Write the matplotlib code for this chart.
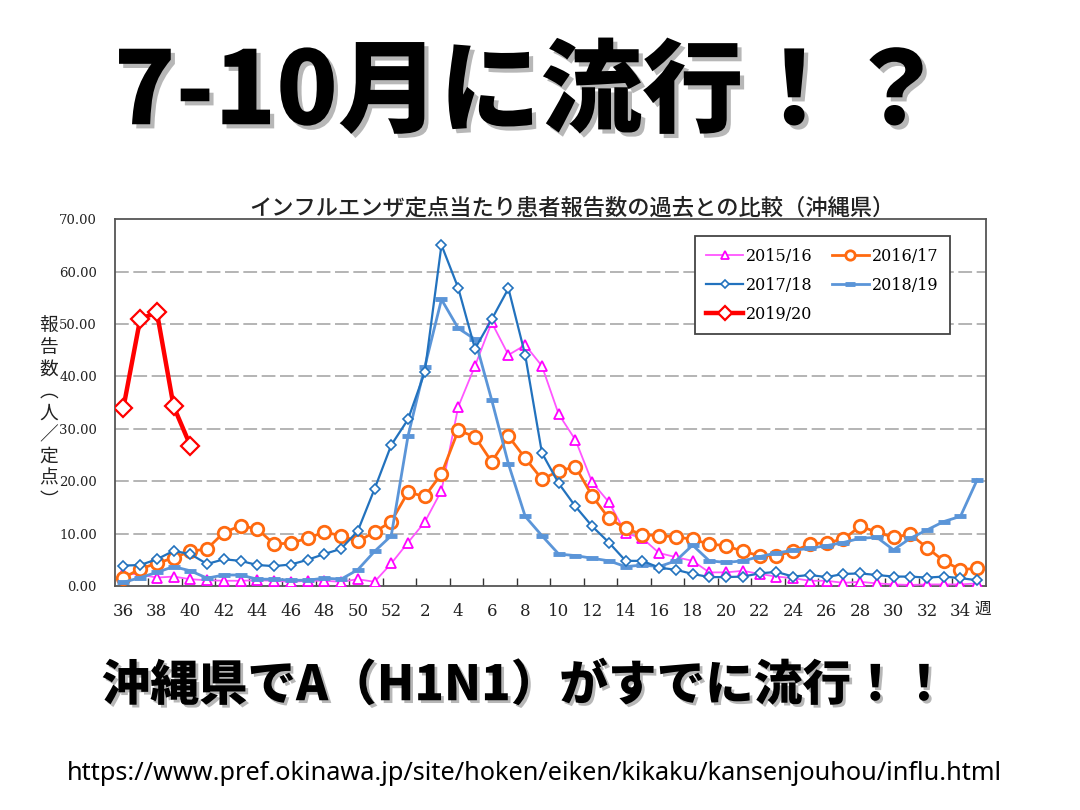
import matplotlib
matplotlib.use("Agg")
import matplotlib.pyplot as plt
import matplotlib.patheffects as pe
import numpy as np

# ---- data ----
weeks = list(range(36, 53)) + list(range(1, 36))
tick_labels = [str(w) if i % 2 == 0 else "" for i, w in enumerate(weeks)]

s1516 = [2.4, 2.2, 1.6, 1.8, 1.3, 1.1, 1.0, 1.0, 1.1, 1.0, 0.8, 1.0, 1.0, 0.8, 1.3, 0.8, 4.3,
         8.3, 12.2, 18.2, 34.2, 42.0, 50.3, 44.1, 46.0, 42.0, 32.8, 27.9, 19.8, 16.0, 10.1, 9.1,
         6.3, 5.5, 4.8, 2.6, 2.6, 2.9, 2.3, 1.8, 1.5, 1.0, 1.0, 0.6, 0.8, 0.5, 0.3, 0.2, 0.3,
         0.3, 0.3, 0.5]
s1617 = [1.5, 3.3, 4.3, 5.4, 6.6, 7.1, 10.2, 11.5, 10.9, 8.0, 8.2, 9.1, 10.3, 9.6, 8.5, 10.3, 12.3,
         17.9, 17.1, 21.4, 29.7, 28.5, 23.7, 28.6, 24.4, 20.4, 21.9, 22.8, 17.2, 12.9, 11.0, 9.8,
         9.6, 9.4, 8.9, 8.0, 7.7, 6.6, 5.8, 5.8, 6.6, 8.0, 8.3, 8.9, 11.4, 10.3, 9.3, 9.9, 7.3,
         4.8, 3.1, 3.4]
s1718 = [3.9, 4.0, 5.1, 6.7, 6.1, 4.2, 5.1, 4.8, 4.0, 3.8, 4.1, 5.0, 6.1, 7.1, 10.5, 18.5, 26.9,
         31.8, 40.8, 65.1, 56.9, 45.3, 50.9, 56.8, 44.1, 25.4, 19.6, 15.2, 11.4, 8.3, 4.8, 4.8,
         3.5, 3.1, 2.3, 1.7, 1.7, 1.8, 2.4, 2.7, 1.8, 2.1, 1.7, 2.3, 2.4, 2.1, 1.8, 1.8, 1.6,
         1.8, 1.5, 1.1]
s1819 = [0.7, 1.6, 2.6, 3.7, 2.9, 1.5, 2.1, 2.1, 1.3, 1.3, 1.1, 1.1, 1.5, 1.3, 3.1, 6.6, 9.6,
         28.6, 41.8, 54.7, 49.2, 47.1, 35.5, 23.3, 13.3, 9.6, 6.1, 5.8, 5.3, 4.8, 3.7, 4.0,
         3.7, 4.8, 7.8, 4.8, 4.5, 4.8, 5.6, 6.3, 6.8, 7.2, 7.7, 8.3, 9.1, 9.3, 6.9, 9.1, 10.7,
         12.3, 13.3, 20.3]
s1920 = [34.0, 50.9, 52.3, 34.3, 26.8]

y_ticks = [0, 10, 20, 30, 40, 50, 60, 70]

x = np.arange(len(weeks))

fig = plt.figure(figsize=(10.8, 8.1), dpi=100)
fig.patch.set_facecolor("white")
ax = fig.add_axes([115 / 1080, 1 - 586 / 810, 870.6 / 1080, 366.7 / 810])

serif = "DejaVu Serif"
cjk = ["Noto Sans CJK JP", "DejaVu Sans"]

l1, = ax.plot(x, s1516, color="#FF55FF", lw=1.3, marker="^", ms=7, mfc="white",
              mec="#FF00FF", mew=1.3, label="2015/16", zorder=3)
l2, = ax.plot(x, s1617, color="#FF6A10", lw=2.0, marker="o", ms=9, mfc="white",
              mec="#FF6A10", mew=2.0, label="2016/17", zorder=3)
l3, = ax.plot(x, s1718, color="#2272BE", lw=1.6, marker="D", ms=5.5, mfc="white",
              mec="#2272BE", mew=1.2, label="2017/18", zorder=4)
l4, = ax.plot(x, s1819, color="#5B95D8", lw=2.0, marker="_", ms=9, mfc="#5B95D8",
              mec="#5B95D8", mew=3.5, label="2018/19", zorder=3)
l5, = ax.plot(x[:len(s1920)], s1920, color="#FF0000", lw=3.2, marker="D", ms=9, mfc="white",
              mec="#FF0000", mew=1.6, label="2019/20", zorder=5)

ax.set_xlim(-0.5, len(weeks) - 0.5)
ax.set_ylim(0, 70)
ax.set_yticks(y_ticks)
ax.set_yticklabels([f"{v:.2f}" for v in y_ticks], fontfamily=serif, fontsize=9.5, color="#222222")
ax.tick_params(axis="y", length=0, pad=13)

ax.set_xticks(x[::2])
ax.set_xticklabels([lab for lab in tick_labels if lab][: len(x[::2])], fontfamily=serif,
                   fontsize=12, color="#222222")
ax.set_xticks(np.arange(1.5, len(weeks) - 1, 2), minor=True)
ax.tick_params(axis="x", which="major", length=0, pad=12)
ax.tick_params(axis="x", which="minor", length=6, direction="in", width=1.0, color="#333333")

for v in y_ticks[1:-1]:
    ax.axhline(v, color="#A0A0A0", lw=1.1, ls=(0, (9, 3)), zorder=1)

for s in ax.spines.values():
    s.set_color("#555555")
    s.set_linewidth(1.3)

handles = [l1, l3, l5, l2, l4]
leg = ax.legend(handles=handles, labels=[h.get_label() for h in handles], ncol=2,
                loc="upper right", bbox_to_anchor=(0.968, 0.975), fancybox=False,
                edgecolor="#444444", framealpha=1, prop={"family": serif, "size": 11.5},
                handlelength=2.3, columnspacing=1.2, labelspacing=0.75, borderpad=0.7,
                handletextpad=0.2, markerscale=0.75)
leg.get_frame().set_linewidth(1.3)

# unit label for x axis
ax.text(51.3, -4.4, "週", fontfamily=cjk, fontsize=12, ha="center", va="center", color="#222222")

# y axis label (vertical text)
fig.text(49 / 1080, 1 - 413 / 810, "報\n告\n数\n︵\n人\n／\n定\n点\n︶", fontfamily=cjk,
         fontsize=13.5, ha="center", va="center", linespacing=1.05, color="#222222")

# chart title
fig.text(572 / 1080, 1 - 208 / 810, "インフルエンザ定点当たり患者報告数の過去との比較（沖縄県）",
         fontfamily=cjk, fontsize=16, fontweight="medium", ha="center", va="center", color="#222222")

shadow = [pe.withSimplePatchShadow(offset=(3, -3), shadow_rgbFace="#888888", alpha=0.6)]
fig.text(530 / 1080, 1 - 94 / 810, "7-10月に流行！？", fontfamily=cjk, fontsize=73,
         fontweight="black", ha="center", va="center", color="black", path_effects=shadow)
fig.text(525 / 1080, 1 - 686 / 810, "沖縄県でA（H1N1）がすでに流行！！", fontfamily=cjk, fontsize=35,
         fontweight="black", ha="center", va="center", color="black",
         path_effects=[pe.withSimplePatchShadow(offset=(2, -2), shadow_rgbFace="#888888", alpha=0.6)])
fig.text(534 / 1080, 1 - 773 / 810,
         "https://www.pref.okinawa.jp/site/hoken/eiken/kikaku/kansenjouhou/influ.html",
         fontfamily=["Noto Sans", "DejaVu Sans"], fontsize=18.2, ha="center", va="center", color="black")

fig.savefig("out.png", dpi=100, facecolor="white")
